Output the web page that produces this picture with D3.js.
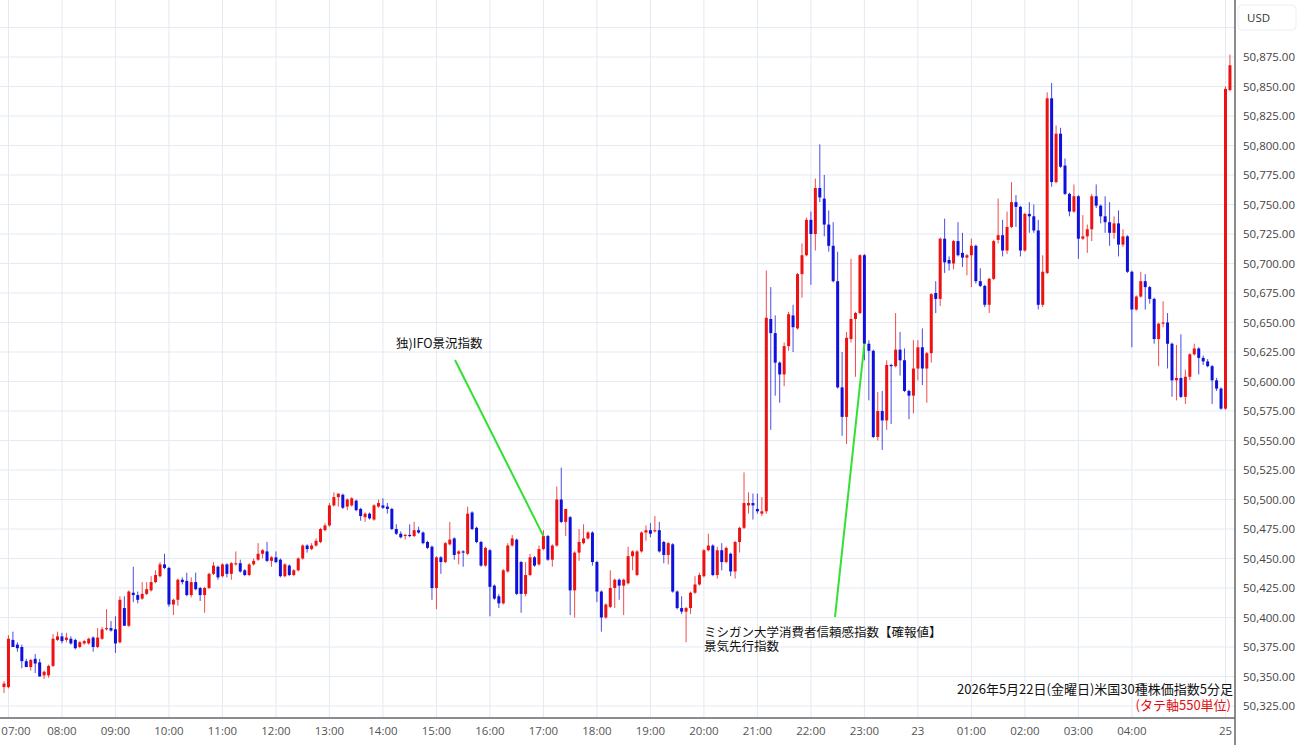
<!DOCTYPE html>
<html><head><meta charset="utf-8">
<script src="https://cdn.jsdelivr.net/npm/d3@7"></script>
<style>body{margin:0;background:#fff}svg{display:block}</style>
</head><body>
<script>
const opens=[50341,50341,50381,50377,50375,50363,50358,50365,50362,50351,50351,50359,50381,50384,50381,50382,50381,50375,50378,50378,50383,50375,50382,50390,50391,50390,50379,50408,50393,50421,50419,50416,50420,50423,50430,50435,50445,50442,50411,50415,50432,50431,50419,50430,50425,50419,50425,50437,50443,50435,50445,50437,50445,50446,50440,50436,50445,50449,50454,50456,50448,50451,50449,50435,50444,50436,50440,50450,50461,50458,50461,50464,50474,50478,50495,50502,50504,50494,50495,50499,50492,50485,50488,50483,50494,50495,50494,50492,50475,50471,50469,50470,50469,50474,50472,50464,50460,50425,50451,50447,50462,50467,50454,50456,50454,50489,50476,50464,50444,50457,50427,50418,50412,50439,50461,50466,50447,50420,50436,50451,50445,50458,50469,50449,50461,50500,50481,50485,50423,50455,50463,50467,50472,50447,50422,50400,50409,50425,50432,50427,50429,50452,50436,50456,50472,50474,50473,50474,50464,50453,50462,50422,50408,50405,50408,50421,50428,50435,50457,50461,50436,50457,50447,50454,50439,50464,50476,50495,50497,50492,50488,50490,50653,50641,50616,50606,50630,50656,50645,50691,50707,50737,50725,50764,50755,50733,50715,50685,50595,50570,50636,50653,50658,50707,50632,50626,50553,50575,50567,50614,50613,50627,50618,50592,50588,50611,50629,50611,50624,50675,50670,50721,50703,50700,50719,50709,50705,50707,50715,50685,50681,50665,50687,50720,50724,50711,50731,50752,50748,50711,50742,50740,50728,50665,50692,50840,50769,50810,50783,50759,50744,50757,50721,50723,50729,50757,50749,50740,50735,50726,50734,50716,50723,50693,50661,50672,50685,50680,50670,50636,50649,50650,50632,50601,50603,50587,50604,50623,50628,50620,50617,50613,50601,50594,50577,50847];
const highs=[50346,50385,50388,50379,50377,50365,50365,50369,50365,50355,50360,50386,50388,50387,50387,50384,50382,50380,50381,50383,50384,50391,50392,50407,50397,50401,50418,50418,50423,50443,50422,50430,50430,50435,50440,50447,50454,50443,50416,50433,50434,50438,50434,50438,50426,50426,50438,50447,50444,50446,50446,50447,50456,50449,50441,50446,50450,50463,50458,50464,50452,50456,50450,50446,50445,50441,50451,50462,50462,50463,50467,50476,50480,50497,50506,50505,50505,50501,50502,50500,50493,50489,50489,50496,50500,50501,50497,50493,50479,50473,50471,50479,50481,50477,50473,50465,50461,50452,50452,50464,50481,50468,50457,50457,50494,50490,50477,50465,50460,50458,50428,50420,50441,50463,50470,50467,50448,50447,50454,50452,50461,50474,50470,50462,50511,50527,50492,50486,50456,50475,50479,50473,50473,50448,50423,50412,50440,50433,50433,50433,50460,50457,50457,50473,50478,50480,50486,50481,50465,50464,50463,50423,50418,50409,50422,50435,50438,50458,50471,50462,50460,50463,50460,50455,50465,50477,50523,50506,50505,50505,50502,50694,50680,50656,50617,50633,50659,50665,50692,50717,50739,50744,50772,50801,50775,50745,50735,50710,50625,50642,50704,50659,50708,50708,50635,50627,50591,50592,50618,50615,50658,50642,50628,50593,50635,50635,50645,50625,50675,50685,50722,50738,50706,50720,50735,50726,50708,50721,50716,50696,50682,50688,50720,50755,50737,50744,50769,50758,50749,50743,50752,50750,50737,50707,50845,50853,50817,50815,50789,50760,50767,50758,50741,50733,50759,50767,50750,50757,50752,50740,50745,50729,50724,50694,50673,50693,50691,50681,50671,50650,50668,50658,50633,50631,50640,50610,50624,50632,50629,50622,50619,50614,50603,50595,50850,50877];
const lows=[50336,50340,50375,50371,50357,50358,50355,50353,50350,50348,50349,50358,50380,50378,50379,50377,50373,50374,50377,50377,50371,50374,50381,50389,50388,50370,50378,50393,50392,50413,50412,50415,50419,50422,50429,50434,50441,50409,50402,50410,50428,50418,50417,50423,50414,50404,50424,50436,50432,50434,50434,50432,50444,50438,50435,50435,50444,50448,50450,50447,50443,50446,50434,50434,50435,50435,50439,50449,50455,50457,50460,50463,50473,50477,50494,50494,50492,50491,50494,50490,50482,50481,50483,50482,50493,50492,50488,50474,50470,50467,50466,50468,50468,50471,50462,50458,50415,50407,50437,50446,50461,50449,50445,50443,50453,50474,50463,50443,50443,50401,50415,50408,50411,50438,50460,50419,50404,50418,50435,50443,50444,50457,50448,50443,50460,50480,50469,50402,50400,50448,50462,50466,50444,50413,50388,50399,50408,50408,50415,50402,50428,50440,50435,50455,50465,50468,50472,50455,50446,50445,50421,50407,50403,50379,50403,50420,50427,50434,50456,50435,50433,50440,50446,50435,50433,50455,50475,50488,50483,50488,50486,50488,50559,50588,50582,50596,50626,50625,50644,50671,50706,50682,50711,50752,50723,50710,50684,50594,50554,50547,50633,50604,50657,50618,50584,50552,50550,50542,50559,50564,50612,50605,50591,50568,50573,50601,50597,50582,50616,50658,50664,50692,50694,50695,50706,50697,50690,50680,50683,50680,50663,50658,50686,50717,50706,50708,50730,50731,50706,50710,50726,50726,50661,50663,50691,50765,50768,50781,50758,50740,50743,50704,50720,50709,50719,50747,50734,50726,50715,50721,50706,50714,50692,50629,50660,50671,50661,50666,50632,50613,50646,50611,50587,50584,50586,50581,50601,50622,50606,50614,50612,50581,50592,50576,50576,50846];
const closes=[50344,50382,50375,50374,50363,50358,50364,50361,50350,50354,50359,50382,50384,50380,50383,50378,50374,50379,50380,50382,50375,50383,50390,50391,50389,50378,50415,50393,50422,50419,50415,50420,50424,50430,50436,50445,50442,50411,50415,50432,50430,50419,50430,50424,50419,50425,50437,50444,50434,50445,50437,50446,50446,50439,50436,50445,50448,50454,50457,50448,50451,50447,50435,50445,50436,50440,50450,50461,50458,50461,50465,50475,50478,50495,50502,50505,50493,50500,50501,50491,50486,50488,50484,50495,50497,50493,50492,50475,50471,50468,50470,50469,50474,50472,50463,50459,50425,50451,50447,50463,50466,50453,50456,50455,50488,50475,50464,50444,50459,50426,50416,50412,50440,50461,50467,50420,50420,50436,50451,50444,50458,50469,50449,50461,50500,50481,50492,50423,50455,50464,50467,50472,50447,50422,50400,50411,50425,50432,50427,50432,50452,50456,50456,50472,50474,50471,50474,50456,50453,50463,50422,50408,50405,50408,50421,50428,50436,50457,50461,50436,50457,50447,50459,50439,50464,50476,50497,50497,50495,50490,50490,50654,50641,50616,50606,50630,50657,50646,50691,50707,50737,50725,50764,50756,50733,50715,50685,50595,50570,50637,50653,50658,50707,50632,50626,50553,50575,50567,50614,50613,50627,50618,50592,50588,50611,50629,50611,50624,50674,50670,50721,50701,50700,50719,50707,50705,50707,50715,50685,50681,50665,50687,50719,50724,50711,50731,50752,50748,50711,50742,50740,50728,50665,50693,50840,50769,50810,50782,50759,50744,50757,50721,50723,50729,50757,50749,50740,50735,50726,50734,50716,50723,50693,50661,50672,50685,50680,50670,50636,50649,50650,50632,50601,50603,50587,50604,50623,50628,50620,50617,50613,50601,50594,50577,50848,50868];
const timeLabels=["07:00","08:00","09:00","10:00","11:00","12:00","13:00","14:00","15:00","16:00","17:00","18:00","19:00","20:00","21:00","22:00","23:00","23","01:00","02:00","03:00","04:00","25"];
const timeLabelIdx=[1,13,25,37,49,61,73,85,97,109,121,133,145,157,169,181,193,205,217,229,241,253,274];
const yTicks=d3.range(50325,50876,25);
const notes=[
 {lines:["独)IFO景況指数"], idx:121, px:50469, tx:396, ty:348, lx:455, ly:360},
 {lines:["ミシガン大学消費者信頼感指数【確報値】","景気先行指数"], idx:193, px:50632, tx:704, ty:637, lx:835, ly:617}
];
const title="2026年5月22日(金曜日)米国30種株価指数5分足";
const subtitle="(タテ軸550単位)";

const W=1300,H=745, plotR=1235, plotB=718;
const svg=d3.select("body").append("svg").attr("width",W).attr("height",H);
const x=d3.scaleLinear().domain([0,275]).range([4,4+275*4.458]);
const y=d3.scaleLinear().domain([50325,50875]).range([706,57]);
const font="'Open Sans','Noto Sans',sans-serif";
const jp="'Noto Sans CJK JP',sans-serif";

const g=svg.append("g");
g.selectAll(".hg").data(d3.range(50300,50926,25).filter(v=>y(v)>0&&y(v)<plotB)).join("line")
 .attr("x1",0).attr("x2",plotR).attr("y1",d=>y(d)).attr("y2",d=>y(d)).attr("stroke","#e3eaf2").attr("stroke-width",1);
g.selectAll(".vg").data(timeLabelIdx).join("line")
 .attr("x1",d=>x(d)).attr("x2",d=>x(d)).attr("y1",0).attr("y2",plotB).attr("stroke","#e3eaf2").attr("stroke-width",1);

const idx=d3.range(opens.length);
const col=i=>closes[i]>=opens[i]?"#ee1111":"#1010dd";
svg.append("g").selectAll("line").data(idx).join("line")
 .attr("x1",i=>x(i)).attr("x2",i=>x(i)).attr("y1",i=>y(highs[i])).attr("y2",i=>y(lows[i]))
 .attr("stroke",col).attr("stroke-width",1).attr("opacity",0.75);
svg.append("g").selectAll("rect").data(idx).join("rect")
 .attr("x",i=>x(i)-1.5).attr("width",3)
 .attr("y",i=>y(Math.max(opens[i],closes[i])))
 .attr("height",i=>Math.max(1,Math.abs(y(opens[i])-y(closes[i]))))
 .attr("fill",col);

svg.append("line").attr("x1",0).attr("x2",plotR).attr("y1",plotB).attr("y2",plotB).attr("stroke","#666").attr("stroke-width",1.5);
svg.append("line").attr("x1",plotR).attr("x2",plotR).attr("y1",0).attr("y2",H).attr("stroke","#666").attr("stroke-width",1.5);
svg.append("g").selectAll("text").data(yTicks).join("text")
 .attr("x",1243).attr("y",d=>y(d)+4).text(d=>d3.format(",.2f")(d))
 .attr("font-family",font).attr("font-size",11.5).attr("fill","#444");
svg.append("g").selectAll("text").data(timeLabelIdx).join("text")
 .attr("x",d=>Math.max(x(d),16)).attr("y",735).attr("text-anchor","middle").text((d,i)=>timeLabels[i])
 .attr("font-family",font).attr("font-size",11.5).attr("fill","#555");
svg.append("rect").attr("x",1238).attr("y",5).attr("width",58).attr("height",25).attr("rx",4)
 .attr("fill","#fff").attr("stroke","#eee");
svg.append("text").attr("x",1247).attr("y",22).text("USD").attr("font-family",font).attr("font-size",11.5).attr("fill","#333");

notes.forEach(n=>{
 svg.append("line").attr("x1",n.lx).attr("y1",n.ly).attr("x2",x(n.idx)).attr("y2",y(n.px))
  .attr("stroke","#33e033").attr("stroke-width",2);
 n.lines.forEach((t,k)=>svg.append("text").attr("x",n.tx).attr("y",n.ty+k*14).text(t)
  .attr("font-family",jp).attr("font-size",12.5).attr("fill","#111"));
});
svg.append("text").attr("x",1233).attr("y",694).attr("text-anchor","end").text(title)
 .attr("font-family",jp).attr("font-size",13).attr("fill","#111");
svg.append("text").attr("x",1231).attr("y",710).attr("text-anchor","end").text(subtitle)
 .attr("font-family",jp).attr("font-size",13).attr("fill","#e01010");
</script>
</body></html>
